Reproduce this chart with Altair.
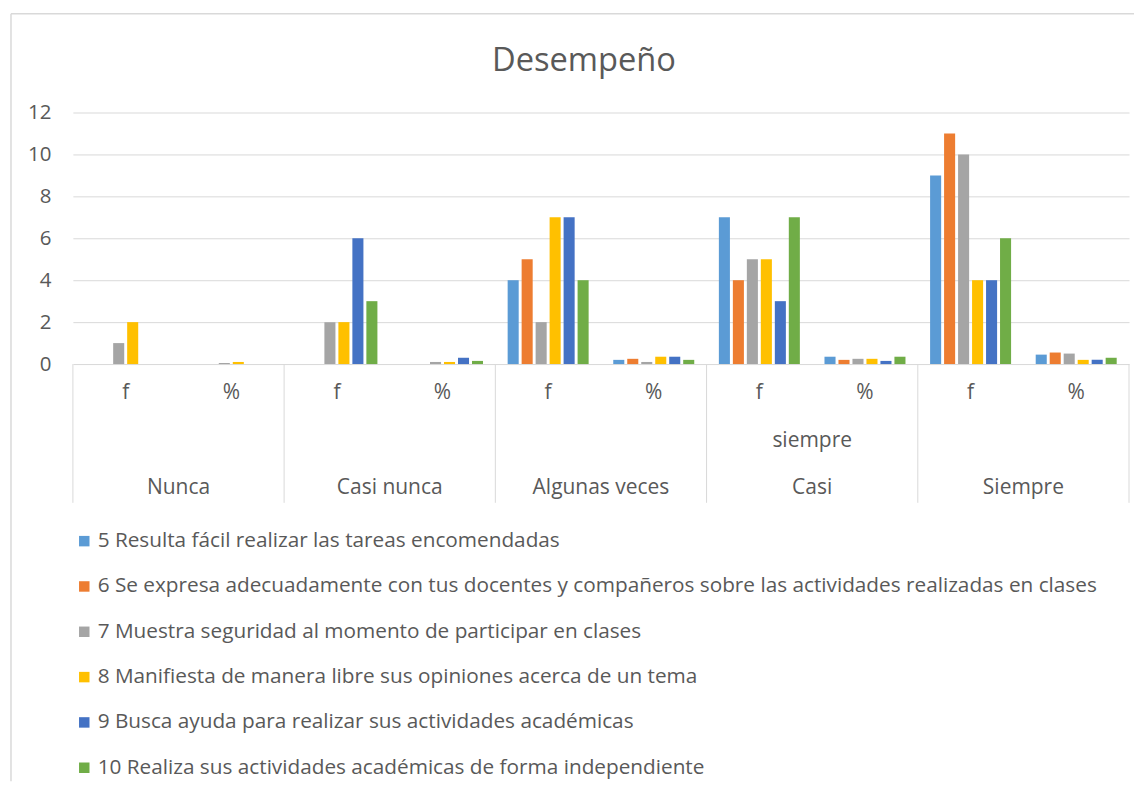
import altair as alt
import pandas as pd

title_text = "Desempeño"
categories = ["Nunca", "Casi nunca", "Algunas veces", "Casi siempre", "Siempre"]
subs = ["f", "%"]
series = [
    "5 Resulta fácil realizar las tareas encomendadas",
    "6 Se expresa adecuadamente con tus docentes y compañeros sobre las actividades realizadas en clases",
    "7 Muestra seguridad al momento de participar en clases",
    "8 Manifiesta de manera libre sus opiniones acerca de un tema",
    "9 Busca ayuda para realizar sus actividades académicas",
    "10 Realiza sus actividades académicas de forma independiente",
]
colors = ["#5B9BD5", "#ED7D31", "#A5A5A5", "#FFC000", "#4472C4", "#70AD47"]

# frequencies per series across categories (Nunca..Siempre)
f_values = [
    [0, 0, 4, 7, 9],
    [0, 0, 5, 4, 11],
    [1, 2, 2, 5, 10],
    [2, 2, 7, 5, 4],
    [0, 6, 7, 3, 4],
    [0, 3, 4, 7, 6],
]
pct_values = [
    [0.0, 0.0, 0.20, 0.35, 0.45],
    [0.0, 0.0, 0.25, 0.20, 0.55],
    [0.05, 0.10, 0.10, 0.25, 0.50],
    [0.10, 0.10, 0.35, 0.25, 0.20],
    [0.0, 0.30, 0.35, 0.15, 0.20],
    [0.0, 0.15, 0.20, 0.35, 0.30],
]
group_bottom = ["Nunca", "Casi nunca", "Algunas veces", "Casi", "Siempre"]
group_middle = ["", "", "", "siempre", ""]

W, H = 1058, 252
FONT = "Open Sans"
TXT = "#595959"
GRID = "#d9d9d9"

keys = [f"{c}|{s}" for c in categories for s in subs]

rows = []
for si, s in enumerate(series):
    for ci, c in enumerate(categories):
        rows.append({"key": f"{c}|f", "series": s, "value": f_values[si][ci]})
        rows.append({"key": f"{c}|%", "series": s, "value": pct_values[si][ci]})
df = pd.DataFrame(rows)

sub_df = pd.DataFrame([{"key": f"{c}|{s}", "sub": s} for c in categories for s in subs])
grp_df = pd.DataFrame([
    {"fkey": f"{c}|f", "pkey": f"{c}|%", "bottom": b, "middle": m}
    for c, b, m in zip(categories, group_bottom, group_middle)
])
last_df = pd.DataFrame([{"pkey": f"{categories[-1]}|%"}])
frame_df = pd.DataFrame([{"title": title_text}])

xscale = alt.Scale(domain=keys, paddingInner=0, paddingOuter=0)

bars = alt.Chart(df).mark_bar().encode(
    x=alt.X("key:N", sort=keys, scale=xscale, axis=None),
    xOffset=alt.XOffset("series:N", sort=series,
                        scale=alt.Scale(domain=series, paddingInner=0.21, paddingOuter=0.88)),
    y=alt.Y("value:Q", scale=alt.Scale(domain=[0, 12]),
            axis=alt.Axis(values=[0, 2, 4, 6, 8, 10, 12], title=None, domain=False, ticks=False,
                          labelPadding=22, gridColor=GRID, labelFontSize=20.5, labelColor=TXT,
                          labelFont=FONT)),
    color=alt.Color("series:N", sort=series,
                    scale=alt.Scale(domain=series, range=colors),
                    legend=alt.Legend(title=None, orient="none", legendX=1, legendY=419,
                                      direction="vertical", symbolType="square", symbolSize=110,
                                      symbolStrokeWidth=0, labelFontSize=20.8, labelColor=TXT,
                                      labelFont=FONT, labelLimit=2000, rowPadding=23.4,
                                      labelOffset=3)),
)

sep = alt.Chart(grp_df).mark_rule(color=GRID, strokeWidth=1).encode(
    x=alt.X("fkey:N", sort=keys, scale=xscale, bandPosition=0, axis=None),
    y=alt.value(H), y2=alt.value(H + 139),
)
sep_end = alt.Chart(last_df).mark_rule(color=GRID, strokeWidth=1).encode(
    x=alt.X("pkey:N", sort=keys, scale=xscale, bandPosition=1, axis=None),
    y=alt.value(H), y2=alt.value(H + 139),
)

LBL = 21
sub_text = alt.Chart(sub_df).mark_text(font=FONT, fontSize=LBL, color=TXT, baseline="middle").encode(
    x=alt.X("key:N", sort=keys, scale=xscale, axis=None),
    y=alt.value(H + 29), text="sub:N",
)
grp_bottom = alt.Chart(grp_df).mark_text(font=FONT, fontSize=LBL, color=TXT, baseline="middle").encode(
    x=alt.X("pkey:N", sort=keys, scale=xscale, bandPosition=0, axis=None),
    y=alt.value(H + 124), text="bottom:N",
)
grp_middle = alt.Chart(grp_df).mark_text(font=FONT, fontSize=LBL, color=TXT, baseline="middle").encode(
    x=alt.X("pkey:N", sort=keys, scale=xscale, bandPosition=0, axis=None),
    y=alt.value(H + 77), text="middle:N",
)

frame_top = alt.Chart(frame_df).mark_rule(color=GRID, strokeWidth=1.5).encode(
    x=alt.value(-62), x2=alt.value(W + 5), y=alt.value(-99),
)
frame_left = alt.Chart(frame_df).mark_rule(color=GRID, strokeWidth=1.5).encode(
    x=alt.value(-62), y=alt.value(-99), y2=alt.value(H + 418),
)
title_mark = alt.Chart(frame_df).mark_text(font=FONT, fontSize=32.7, color=TXT,
                                           baseline="middle", align="center").encode(
    x=alt.value(W / 2 - 17), y=alt.value(-52), text="title:N",
)

chart = alt.layer(
    frame_top, frame_left, title_mark, bars, sep, sep_end, sub_text, grp_bottom, grp_middle
).properties(
    width=W, height=H,
    padding={"left": 2, "top": 4, "right": 0, "bottom": 0},
).configure_view(stroke="transparent")

chart.save("out.html", embed_options={"renderer": "svg", "actions": False})
